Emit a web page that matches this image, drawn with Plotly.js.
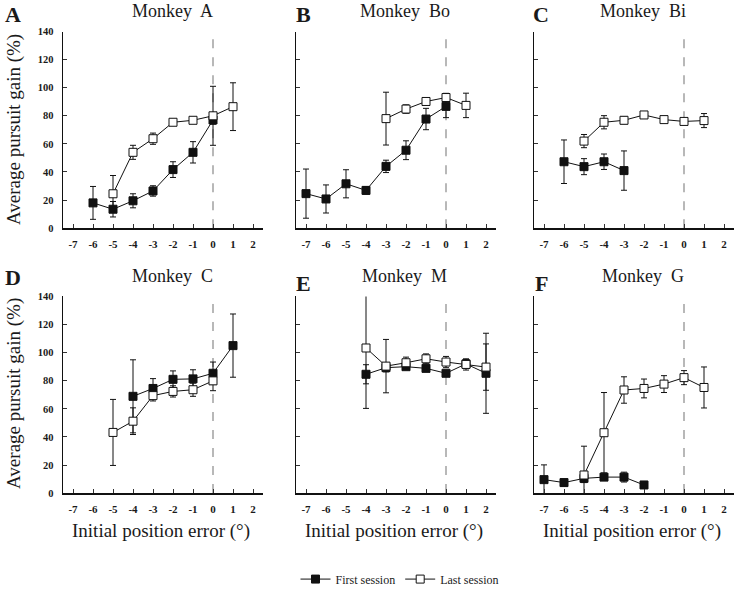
<!DOCTYPE html>
<html>
<head>
<meta charset="utf-8">
<script src="https://cdn.plot.ly/plotly-3.0.1.min.js"></script>
<style>html,body{margin:0;padding:0;background:#fff;}#chart{width:735px;height:594px;}</style>
</head>
<body>
<div id="chart"></div>
<script>
// ---- data ----
const xTickVals = [-7, -6, -5, -4, -3, -2, -1, 0, 1, 2];
const xTickText = ['-7', '-6', '-5', '-4', '-3', '-2', '-1', '0', '1', '2'];
const yTickVals = [0, 20, 40, 60, 80, 100, 120, 140];
const yTickText = ['0', '20', '40', '60', '80', '100', '120', '140'];

const panelLetters = ['A', 'B', 'C', 'D', 'E', 'F'];
const panelTitles = ['Monkey  A', 'Monkey  Bo', 'Monkey  Bi', 'Monkey  C', 'Monkey  M', 'Monkey  G'];
const seriesNames = ['First session', 'Last session'];

// Monkey A
const aFirstX = [-6, -5, -4, -3, -2, -1, 0];
const aFirstY = [18, 13.5, 19.5, 26.5, 41.7, 54, 77];
const aFirstErr = [11.7, 5.5, 5, 3.7, 5.6, 7.6, 3];
const aLastX = [-5, -4, -3, -2, -1, 0, 1];
const aLastY = [24.5, 54, 63.7, 75.4, 76.8, 80, 86.5];
const aLastErr = [13, 5, 4, 1.5, 1.5, 21, 17];

// Monkey Bo
const bFirstX = [-7, -6, -5, -4, -3, -2, -1, 0];
const bFirstY = [24.6, 20.8, 31.6, 26.9, 44, 55.5, 77.7, 86.7];
const bFirstErr = [17.5, 10, 10, 2.7, 4.4, 6.7, 7.6, 8];
const bLastX = [-3, -2, -1, 0, 1];
const bLastY = [78, 84.8, 90.2, 93, 87.4];
const bLastErr = [18.8, 3, 1.5, 3, 8.7];

// Monkey Bi
const cFirstX = [-6, -5, -4, -3];
const cFirstY = [47.3, 43.8, 47.3, 41];
const cFirstErr = [15.5, 5.7, 5.5, 14];
const cLastX = [-5, -4, -3, -2, -1, 0, 1];
const cLastY = [62, 75.4, 76.8, 80.6, 77.3, 76, 76.6];
const cLastErr = [4.7, 4.7, 2.5, 1.5, 1.5, 1.5, 5];

// Monkey C
const dFirstX = [-4, -3, -2, -1, 0, 1];
const dFirstY = [68.9, 74.5, 81, 81.3, 85.3, 105];
const dFirstErr = [26, 7, 6, 6.5, 8, 22.5];
const dLastX = [-5, -4, -3, -2, -1, 0];
const dLastY = [43.2, 51.2, 69.4, 72.4, 73.6, 79.9];
const dLastErr = [23.5, 9.5, 3.8, 4, 4.7, 7];

// Monkey M
const eFirstX = [-4, -3, -2, -1, 0, 1, 2];
const eFirstY = [84.6, 89.3, 90, 88.8, 85.3, 92, 85.3];
const eFirstErr = [6.8, 3, 2, 1.5, 2, 3, 28.5];
const eLastX = [-4, -3, -2, -1, 0, 1, 2];
const eLastY = [103.3, 90.4, 92.8, 95.6, 93.3, 91.6, 89.7];
const eLastErr = [43, 19, 4, 3.5, 4, 4, 16.5];

// Monkey G
const fFirstX = [-7, -6, -5, -4, -3, -2];
const fFirstY = [9.6, 7.5, 10.5, 11.4, 11.4, 5.8];
const fFirstErr = [10.5, 2.5, 3, 2, 3.5, 2.5];
const fLastX = [-5, -4, -3, -2, -1, 0, 1];
const fLastY = [12.9, 43, 73.4, 74.5, 77.6, 82.2, 75.2];
const fLastErr = [20.5, 28.6, 9.4, 6.7, 6, 5, 14.6];

const panels = [
  [aFirstX, aFirstY, aFirstErr, aLastX, aLastY, aLastErr],
  [bFirstX, bFirstY, bFirstErr, bLastX, bLastY, bLastErr],
  [cFirstX, cFirstY, cFirstErr, cLastX, cLastY, cLastErr],
  [dFirstX, dFirstY, dFirstErr, dLastX, dLastY, dLastErr],
  [eFirstX, eFirstY, eFirstErr, eLastX, eLastY, eLastErr],
  [fFirstX, fFirstY, fFirstErr, fLastX, fLastY, fLastErr]
];

// ---- layout helpers ----
const W = 735, H = 594;
const px = v => v / W;
const py = v => 1 - v / H;
const colLeft = [63, 296, 534];
const colWidth = 200;
const rowTop = [32, 301];
const rowHeight = 199.7;
const serif = 'Liberation Serif, Times New Roman, serif';
const ink = '#1a1a1a';

const traces = [];
const layout = {
  width: W, height: H,
  margin: {l: 0, r: 0, t: 0, b: 0},
  paper_bgcolor: '#fff', plot_bgcolor: 'rgba(0,0,0,0)',
  font: {family: serif, color: ink},
  showlegend: true,
  legend: {
    orientation: 'h', x: px(400), xanchor: 'center', y: py(588), yanchor: 'middle',
    font: {family: serif, size: 12, color: ink}, itemwidth: 30, tracegroupgap: 0,
    bgcolor: 'rgba(0,0,0,0)'
  },
  annotations: [], shapes: []
};

panels.forEach((p, i) => {
  const row = Math.floor(i / 3), col = i % 3;
  const n = i + 1;
  const xa = n === 1 ? 'x' : 'x' + n;
  const ya = n === 1 ? 'y' : 'y' + n;
  const xKey = n === 1 ? 'xaxis' : 'xaxis' + n;
  const yKey = n === 1 ? 'yaxis' : 'yaxis' + n;
  const common = {
    showline: true, linecolor: '#111', linewidth: 1.5, mirror: false,
    showgrid: false, zeroline: false, ticks: 'inside', ticklen: 4, tickwidth: 1,
    tickcolor: '#333', fixedrange: true
  };
  layout[xKey] = Object.assign({}, common, {
    domain: [px(colLeft[col]), px(colLeft[col] + colWidth)],
    range: [-7.5, 2.5], anchor: ya,
    tickmode: 'array', tickvals: xTickVals, ticktext: xTickText,
    tickfont: {family: serif, size: 11, color: ink, weight: 'bold'},
    ticklabelstandoff: 5
  });
  layout[yKey] = Object.assign({}, common, {
    domain: [py(rowTop[row] + rowHeight), py(rowTop[row])],
    range: [0, 140], anchor: xa,
    tickmode: 'array', tickvals: yTickVals, ticktext: yTickText,
    showticklabels: col === 0,
    tickfont: {family: serif, size: 10.5, color: ink, weight: 'bold'},
    ticklabelstandoff: 6
  });

  // dashed reference line at 0
  layout.shapes.push({
    type: 'line', xref: xa, yref: ya, x0: 0, x1: 0, y0: 0, y1: 140,
    line: {color: '#a0a0a0', width: 1.5, dash: 'dash'}, layer: 'below'
  });

  const mk = (xs, ys, es, filled, name) => ({
    type: 'scatter', mode: 'lines+markers', x: xs, y: ys,
    xaxis: xa, yaxis: ya, name: name, showlegend: i === 0, legendgroup: name,
    cliponaxis: false,
    line: {color: '#111', width: 1},
    marker: {symbol: 'square', size: 8, color: filled ? '#111' : '#fff', line: {color: '#111', width: 1}},
    error_y: {type: 'data', array: es, visible: true, color: '#111', thickness: 1, width: 3}
  });
  traces.push(mk(p[0], p[1], p[2], true, seriesNames[0]));
  traces.push(mk(p[3], p[4], p[5], false, seriesNames[1]));

  // panel letter
  const letterY = row === 0 ? 14.5 : (col === 0 ? 282 : 288);
  const letterX = [13, 303, 541][col];
  layout.annotations.push({
    text: panelLetters[i], xref: 'paper', yref: 'paper', x: px(letterX), y: py(letterY),
    xanchor: 'center', yanchor: 'middle', showarrow: false,
    font: {family: serif, size: 22, color: ink, weight: 'bold'}
  });
  // panel title
  layout.annotations.push({
    text: panelTitles[i], xref: 'paper', yref: 'paper',
    x: px(colLeft[col] + colWidth / 2 + 9), y: py(row === 0 ? 11.5 : 280.5),
    xanchor: 'center', yanchor: 'middle', showarrow: false,
    font: {family: serif, size: 18, color: ink}
  });
  // axis titles
  if (col === 0) {
    layout.annotations.push({
      text: 'Average pursuit gain (%)', xref: 'paper', yref: 'paper',
      x: px(14), y: py(row === 0 ? 132 : 400), textangle: -90,
      xanchor: 'center', yanchor: 'middle', showarrow: false,
      font: {family: serif, size: 19, color: ink}
    });
  }
  if (row === 1) {
    layout.annotations.push({
      text: 'Initial position error (°)', xref: 'paper', yref: 'paper',
      x: px(colLeft[col] + colWidth / 2 - 2), y: py(539.5),
      xanchor: 'center', yanchor: 'middle', showarrow: false,
      font: {family: serif, size: 19, color: ink}
    });
  }
});

Plotly.newPlot('chart', traces, layout, {displayModeBar: false, staticPlot: true});
</script>
</body>
</html>
